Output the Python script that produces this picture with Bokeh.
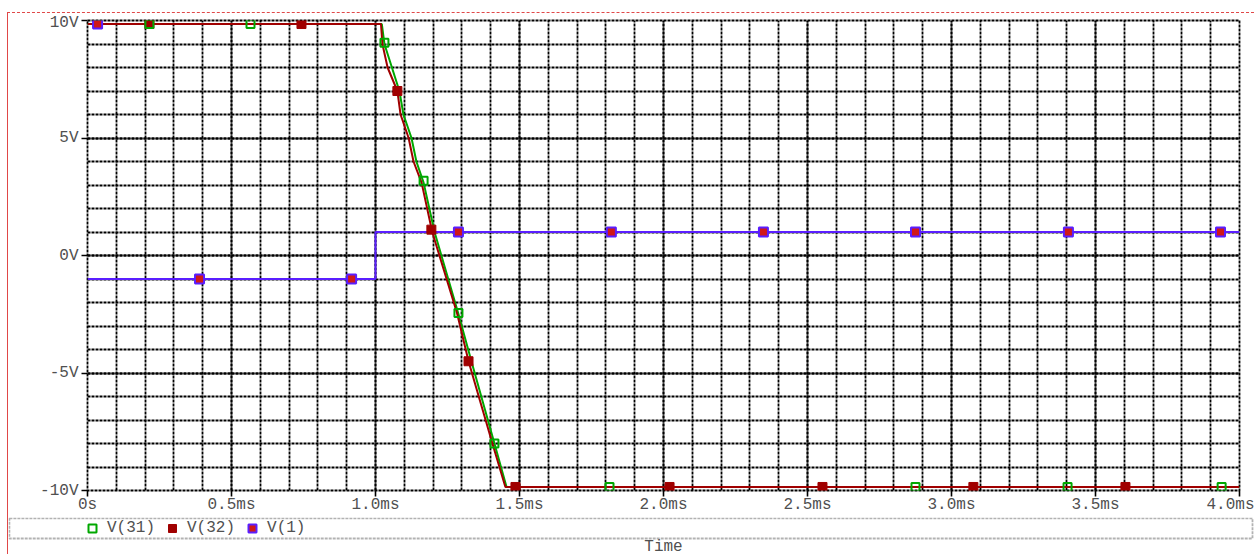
from bokeh.plotting import figure
from bokeh.layouts import column, row
from bokeh.models import (FixedTicker, Legend, LegendItem, Label, BoxAnnotation, Range1d, Spacer)
from bokeh.embed import file_html
from bokeh.resources import INLINE

# ---------------- data (time in ms, voltage in V) ----------------
v31_t = [0.0, 1.022, 1.031, 1.083, 1.097, 1.125, 1.142, 1.167, 1.205, 1.287, 1.333, 1.413, 1.455, 4.0]
v31_v = [9.85, 9.85, 9.0, 7.0, 6.0, 5.0, 4.0, 3.1, 1.0, -2.45, -4.5, -8.0, -9.85, -9.85]

v32_t = [0.0, 1.019, 1.024, 1.042, 1.076, 1.087, 1.115, 1.132, 1.160, 1.197, 1.283, 1.323, 1.406, 1.451, 4.0]
v32_v = [9.85, 9.85, 9.0, 8.0, 7.0, 6.0, 5.0, 4.0, 3.1, 1.0, -2.45, -4.5, -8.0, -9.85, -9.85]

v1_t = [0.0, 1.0, 1.0, 4.0]
v1_v = [-1.0, -1.0, 1.0, 1.0]

v31_marker_t = [0.035, 0.215, 0.566, 1.031, 1.167, 1.288, 1.413, 1.8125, 2.875, 3.403, 3.938]
v31_marker_v = [9.85, 9.85, 9.85, 9.05, 3.18, -2.45, -8.0, -9.85, -9.85, -9.85, -9.85]

v32_marker_t = [0.215, 0.743, 1.076, 1.194, 1.323, 1.486, 2.021, 2.552, 3.076, 3.604]
v32_marker_v = [9.85, 9.85, 7.0, 1.1, -4.5, -9.85, -9.85, -9.85, -9.85, -9.85]

v1_marker_t = [0.035, 0.389, 0.917, 1.288, 1.819, 2.347, 2.875, 3.406, 3.934]
v1_marker_v = [9.85, -1.0, -1.0, 1.0, 1.0, 1.0, 1.0, 1.0, 1.0]

series_names = ["V(31)", "V(32)", "V(1)"]

x_tick_values = [0.0, 0.5, 1.0, 1.5, 2.0, 2.5, 3.0, 3.5, 4.0]
x_tick_labels = ["0s", "0.5ms", "1.0ms", "1.5ms", "2.0ms", "2.5ms", "3.0ms", "3.5ms", "4.0ms"]
y_tick_values = [-10, -5, 0, 5, 10]
y_tick_labels = ["-10V", "-5V", "0V", "5V", "10V"]
x_label = "Time"

# ---------------- styles ----------------
GREEN = "#00a800"
RED = "#a00000"
PURPLE = "#5a1eff"
FONT = "Liberation Mono"
TXT = "#505050"
GRID_W = 1.8
GRID_DASH = "3 1"

W = 1246          # width of the bordered block (page is 1254 wide)
H1, H2 = 504, 37  # main plot / legend strip

p = figure(width=W, height=H1, output_backend="svg", toolbar_location=None,
           x_range=Range1d(0, 4.0), y_range=Range1d(-10, 10),
           min_border_left=79, min_border_right=15, min_border_top=7, min_border_bottom=27)
p.frame_align = False
p.background_fill_color = "white"
p.border_fill_color = "white"
p.outline_line_color = "black"
p.outline_line_width = GRID_W
p.outline_line_dash = GRID_DASH

x_minor = [i / 10 for i in range(0, 41)]
y_minor = [float(i) for i in range(-10, 11)]
xt = FixedTicker(ticks=x_tick_values, minor_ticks=x_minor)
yt = FixedTicker(ticks=y_tick_values, minor_ticks=y_minor)
p.xaxis.ticker = xt
p.yaxis.ticker = yt
p.xaxis.major_label_overrides = {v: l for v, l in zip(x_tick_values, x_tick_labels)}
p.yaxis.major_label_overrides = {v: l for v, l in zip(y_tick_values, y_tick_labels)}

for ax in (p.xaxis, p.yaxis):
    ax.axis_line_color = None
    ax.major_tick_line_color = "black"
    ax.major_tick_line_width = 1.6
    ax.major_tick_out = 6
    ax.major_tick_in = 0
    ax.minor_tick_line_color = None
    ax.major_label_text_font = FONT
    ax.major_label_text_font_size = "16px"
    ax.major_label_text_color = TXT
p.yaxis.major_label_standoff = 3
p.xaxis.major_label_standoff = -1

for g in (p.xgrid, p.ygrid):
    g.grid_line_color = "black"
    g.grid_line_width = GRID_W
    g.grid_line_dash = GRID_DASH
    g.grid_line_alpha = 1.0
    g.minor_grid_line_color = "black"
    g.minor_grid_line_width = GRID_W
    g.minor_grid_line_dash = GRID_DASH
p.xgrid.ticker = xt
p.ygrid.ticker = yt

# traces
p.line(v1_t, v1_v, line_color=PURPLE, line_width=2)
p.line(v31_t, v31_v, line_color=GREEN, line_width=2)
p.line(v32_t, v32_v, line_color=RED, line_width=2)

# markers
m32 = dict(marker="square", fill_color=RED, line_color=RED, line_width=1)
m31 = dict(marker="square", fill_color=None, line_color=GREEN, line_width=2)
m1 = dict(marker="square", fill_color="#d01818", line_color=PURPLE, line_width=2)
p.scatter(v32_marker_t, v32_marker_v, size=9, **m32)
p.scatter(v31_marker_t, v31_marker_v, size=8, **m31)
p.scatter(v1_marker_t, v1_marker_v, size=9, **m1)

# ---------------- legend strip ----------------
p2 = figure(width=W, height=H2, output_backend="svg", toolbar_location=None,
            x_range=Range1d(0, W), y_range=Range1d(H2, 0),
            x_axis_type=None, y_axis_type=None,
            min_border_left=0, min_border_right=0, min_border_top=0, min_border_bottom=0)
p2.frame_align = False
p2.outline_line_color = None
p2.xgrid.visible = False
p2.ygrid.visible = False
p2.background_fill_color = "white"
p2.border_fill_color = "white"

# legend proxy glyphs (same marker series, hidden in this strip)
g31 = p2.scatter(v31_marker_t, v31_marker_v, size=8, visible=False, **m31)
g32 = p2.scatter(v32_marker_t, v32_marker_v, size=8, visible=False, **m32)
g1 = p2.scatter(v1_marker_t, v1_marker_v, size=8, visible=False, **m1)

p2.add_layout(BoxAnnotation(left=0.9, right=W - 2, top=0.9, bottom=21,
                            fill_alpha=0, line_color="black", line_width=GRID_W,
                            line_dash=GRID_DASH))

legend = Legend(items=[LegendItem(label=series_names[0], renderers=[g31]),
                       LegendItem(label=series_names[1], renderers=[g32]),
                       LegendItem(label=series_names[2], renderers=[g1])],
                orientation="horizontal", location=(74, 16),
                margin=0, padding=0, spacing=7, label_standoff=5,
                glyph_width=20, glyph_height=20, label_height=20,
                label_text_font=FONT, label_text_font_size="16px", label_text_color=TXT,
                inactive_fill_alpha=0,
                border_line_alpha=0, background_fill_alpha=0)
p2.add_layout(legend, "center")

p2.add_layout(Label(x=655, y=29, text=x_label, text_align="center", text_baseline="middle",
                    text_font=FONT, text_font_size="16px", text_color=TXT))

block = column(p, p2, spacing=0,
               styles={"border-top": "1px dashed #e04848", "border-left": "1px solid #e04848"})
layout = column(Spacer(width=1254, height=12),
                row(Spacer(width=7, height=H1 + H2 + 1), block, spacing=0),
                spacing=0)

open("out.html", "w").write(file_html(layout, INLINE))
